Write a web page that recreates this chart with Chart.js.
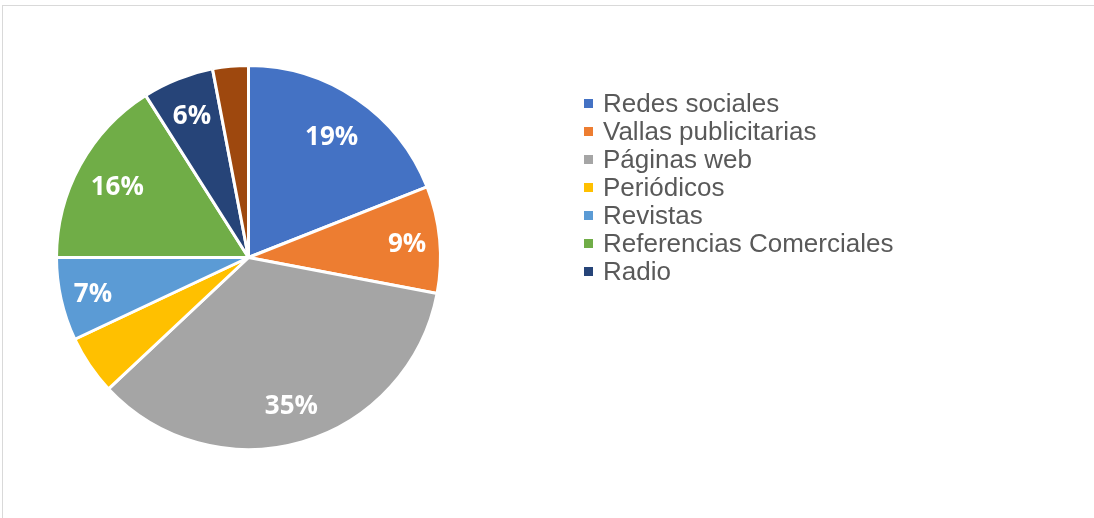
<!DOCTYPE html>
<html>
<head>
<meta charset="utf-8">
<script src="https://cdn.jsdelivr.net/npm/chart.js@4.4.1/dist/chart.umd.min.js"></script>
<style>
  html, body { margin: 0; padding: 0; background: #fff; }
  body { width: 1094px; height: 518px; position: relative; overflow: hidden; }
  #frame { position: absolute; left: 2px; top: 5px; width: 1200px; height: 600px; border: 1px solid #d9d9d9; }
  #wrap { position: absolute; left: 0; top: 0; width: 1094px; height: 518px; }
  #legend { position: absolute; left: 584px; top: 89px; margin: 0; padding: 0; list-style: none;
            font-family: "Liberation Sans", Arial, sans-serif; font-size: 26px; color: #595959; }
  #legend li { height: 28px; line-height: 28px; white-space: nowrap; display: flex; align-items: center; }
  #legend span.box { display: inline-block; width: 9px; height: 9px; margin-right: 10px; }
</style>
</head>
<body>
<div id="frame"></div>
<div id="wrap"><canvas id="pieChart"></canvas></div>
<ul id="legend"></ul>
<script>
const categories = ["Redes sociales", "Vallas publicitarias", "Páginas web", "Periódicos",
                    "Revistas", "Referencias Comerciales", "Radio", "Otros"];
const shares = [19, 9, 35, 5, 7, 16, 6, 3];
const colors = ["#4472C4", "#ED7D31", "#A5A5A5", "#FFC000", "#5B9BD5", "#70AD47", "#264478", "#9E480E"];
// slices that carry a % label in the picture
const showPct = [true, true, true, false, true, true, true, false];
// the last slice has no legend entry
const legendCount = 7;

const pctLabels = {
  id: "pctLabels",
  afterDatasetsDraw(chart) {
    const ctx = chart.ctx;
    const total = shares.reduce((a, b) => a + b, 0);
    // how far out each label sits (Excel "best fit" puts the thin ones further out)
    const dist = [0.77, 0.83, 0.8, 0.8, 0.83, 0.78, 0.8, 0.8];
    ctx.save();
    ctx.font = "bold 26px 'Open Sans', sans-serif";
    ctx.fillStyle = "#fff";
    ctx.textAlign = "center";
    ctx.textBaseline = "middle";
    chart.getDatasetMeta(0).data.forEach((arc, i) => {
      if (!showPct[i]) return;
      const p = arc.getProps(["x", "y", "startAngle", "endAngle", "outerRadius"], true);
      const mid = (p.startAngle + p.endAngle) / 2;
      const r = p.outerRadius * dist[i];
      const txt = Math.round(shares[i] / total * 100) + "%";
      ctx.fillText(txt, p.x + Math.cos(mid) * r, p.y + Math.sin(mid) * r + 2);
    });
    ctx.restore();
  }
};

new Chart(document.getElementById("pieChart"), {
  type: "pie",
  data: {
    labels: categories,
    datasets: [{
      data: shares,
      backgroundColor: colors,
      borderColor: "#fff",
      borderWidth: 3
    }]
  },
  options: {
    responsive: true,
    maintainAspectRatio: false,
    animation: false,
    layout: { padding: { left: 55, top: 64, right: 652, bottom: 67 } },
    plugins: {
      legend: { display: false },
      tooltip: { enabled: false }
    }
  },
  plugins: [pctLabels]
});

const legend = document.getElementById("legend");
categories.slice(0, legendCount).forEach((name, i) => {
  const li = document.createElement("li");
  const box = document.createElement("span");
  box.className = "box";
  box.style.background = colors[i];
  li.appendChild(box);
  li.appendChild(document.createTextNode(name));
  legend.appendChild(li);
});
</script>
</body>
</html>
